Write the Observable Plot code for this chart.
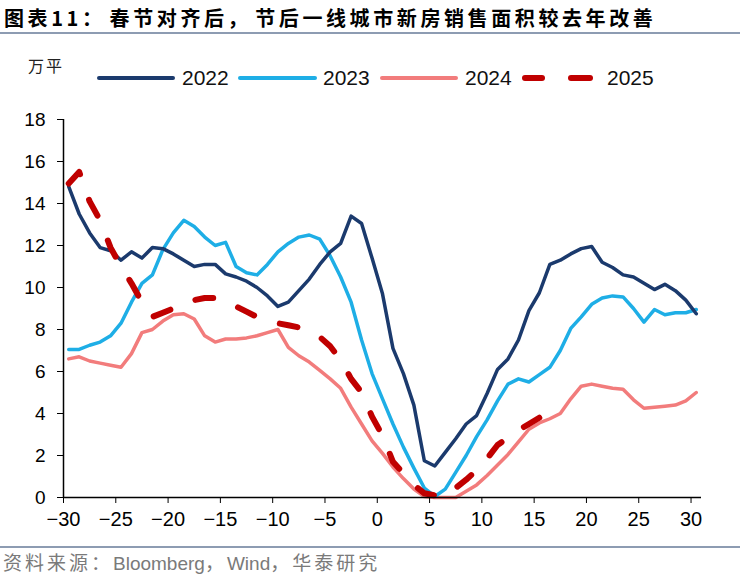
<!DOCTYPE html>
<html>
<head>
<meta charset="utf-8">
<script src="https://cdn.jsdelivr.net/npm/d3@7"></script>
<script src="https://cdn.jsdelivr.net/npm/@observablehq/plot@0.6"></script>
<style>
  html, body { margin: 0; padding: 0; background: #fff; }
  #wrap { position: relative; width: 756px; height: 582px; overflow: hidden; font-family: "Liberation Sans", Arial, sans-serif; }
  .abs { position: absolute; white-space: nowrap; }
  #title { left: 4px; top: 8px; font-family: "Noto Sans CJK SC", sans-serif; font-weight: bold; font-size: 20px; line-height: 20px; letter-spacing: 3.6px; color: #000; }
  .rule { position: absolute; left: 0; width: 740px; height: 2px; background: #8d9cb2; }
  #unit { left: 28px; top: 55px; font-family: "Noto Sans CJK SC", sans-serif; font-size: 16px; line-height: 20px; color: #222; letter-spacing: 2px; }
  .lg-line { position: absolute; height: 4px; border-radius: 2px; }
  .lg-text { position: absolute; font-size: 21px; line-height: 22px; color: #111; }
  #source { left: 3px; top: 551px; font-size: 19px; line-height: 22px; color: #7a7a7a; }
  #source .cjk { font-family: "Noto Sans CJK SC", sans-serif; letter-spacing: 3px; }
  #chart { left: 0; top: 100px; }
</style>
</head>
<body>
<div id="wrap">
  <div id="title" class="abs">图表11：<span style="margin-left:4px">春节对齐后，</span><span style="margin-left:4px">节后一线城市新房销售面积较去年改善</span></div>
  <div class="rule" style="top:32px"></div>
  <div id="unit" class="abs">万平</div>
  <div id="legend"></div>
  <div id="chart" class="abs"></div>
  <div class="rule" style="top:546px"></div>
  <div id="source" class="abs"><span class="cjk">资料来源：</span>Bloomberg<span class="cjk">，</span>Wind<span class="cjk">，华泰研究</span></div>
</div>
<script>
// Days relative to the Spring Festival
const days = d3.range(-30, 31);
const yTicks = [0, 2, 4, 6, 8, 10, 12, 14, 16, 18];
const xTicks = [-30, -25, -20, -15, -10, -5, 0, 5, 10, 15, 20, 25, 30];

const series = ["2022", "2023", "2024", "2025"];
const colors = ["#1b3a6d", "#1eaee6", "#f27c7c", "#c00000"];

// 一线城市新房销售面积 (万平), day -30 .. 30
const v2022 = [14.8, 13.5, 12.6, 11.9, 11.75, 11.3, 11.7, 11.4, 11.9, 11.85,
  11.6, 11.3, 11.0, 11.1, 11.1, 10.65, 10.5, 10.3, 10.0, 9.6,
  9.1, 9.3, 9.85, 10.4, 11.1, 11.7, 12.1, 13.4, 13.05, 11.4,
  9.7, 7.1, 5.9, 4.4, 1.75, 1.5, 2.15, 2.8, 3.5, 3.9,
  4.95, 6.1, 6.6, 7.5, 8.9, 9.75, 11.1, 11.3, 11.6, 11.85,
  11.95, 11.2, 10.95, 10.6, 10.5, 10.2, 9.9, 10.15, 9.85, 9.4, 8.75];
const v2023 = [7.05, 7.05, 7.25, 7.4, 7.7, 8.3, 9.3, 10.2, 10.6, 11.8,
  12.6, 13.2, 12.9, 12.4, 12.0, 12.15, 11.0, 10.7, 10.6, 11.1,
  11.7, 12.1, 12.4, 12.5, 12.3, 11.5, 10.5, 9.3, 7.5, 5.9,
  4.7, 3.5, 2.4, 1.4, 0.45, 0.05, 0.4, 1.2, 2.0, 2.9,
  3.7, 4.6, 5.4, 5.65, 5.5, 5.85, 6.2, 7.0, 8.05, 8.6,
  9.2, 9.5, 9.6, 9.55, 9.0, 8.35, 8.95, 8.7, 8.8, 8.8, 8.95];
const v2024 = [6.6, 6.7, 6.5, 6.4, 6.3, 6.2, 6.85, 7.85, 8.0, 8.4,
  8.7, 8.75, 8.5, 7.7, 7.4, 7.55, 7.55, 7.6, 7.7, 7.85,
  8.0, 7.15, 6.75, 6.45, 6.05, 5.65, 5.2, 4.3, 3.5, 2.7,
  2.1, 1.45, 0.9, 0.4, 0.05, 0.0, 0.0, 0.0, 0.3, 0.6,
  1.05, 1.55, 2.05, 2.65, 3.25, 3.55, 3.75, 4.0, 4.7, 5.3,
  5.4, 5.3, 5.2, 5.15, 4.65, 4.25, 4.3, 4.35, 4.4, 4.6, 5.0];
// 2025 available through day 15
const v2025 = [14.95, 15.5, 14.1, 13.2, 11.9, 11.0, 10.2, 9.3, 8.6, 8.8,
  9.0, 9.25, 9.4, 9.5, 9.5, 9.4, 9.1, 8.85, 8.6, 8.45,
  8.3, 8.2, 8.1, 7.9, 7.65, 7.2, 6.55, 5.65, 5.0, 3.85,
  2.95, 1.7, 1.15, 0.6, 0.2, 0.1, 0.05, 0.45, 0.85, 1.3,
  1.85, 2.5, 2.85, 3.2, 3.5, 3.8];

const values = [v2022, v2023, v2024, v2025];
const rows = values.map(vs => vs.map((v, i) => ({day: days[i], value: v})));

// Legend (HTML)
const legend = document.getElementById("legend");
const lgPos = [
  {line: [97, 78], text: 182},
  {line: [238, 79], text: 323},
  {line: [380, 78], text: 465},
  {line: null, text: 607}
];
series.forEach((s, i) => {
  const p = lgPos[i];
  if (p.line) {
    const d = document.createElement("div");
    d.className = "lg-line";
    d.style.cssText = `left:${p.line[0]}px;top:76px;width:${p.line[1]}px;background:${colors[i]}`;
    legend.appendChild(d);
  } else {
    [[522, 23], [568, 25]].forEach(([l, w]) => {
      const d = document.createElement("div");
      d.className = "lg-line";
      d.style.cssText = `left:${l}px;top:75px;width:${w}px;height:6px;border-radius:3px;background:${colors[i]}`;
      legend.appendChild(d);
    });
  }
  const t = document.createElement("div");
  t.className = "lg-text";
  t.style.cssText = `left:${p.text}px;top:67px`;
  t.textContent = s;
  legend.appendChild(t);
});

const chart = Plot.plot({
  width: 756,
  height: 440,
  marginLeft: 63,
  marginRight: 55,
  marginTop: 19,
  marginBottom: 43,
  style: {fontFamily: "'Liberation Sans', Arial, sans-serif", fontSize: "19px", color: "#000", background: "#fff", overflow: "visible"},
  x: {domain: [-30, 31], ticks: xTicks, tickSize: 6, tickPadding: 8, line: true, label: null},
  y: {domain: [0, 18], ticks: yTicks, tickSize: 6, tickPadding: 12, line: true, label: null},
  marks: [
    Plot.line(rows[2], {x: d => d.day + 0.5, y: "value", stroke: colors[2], strokeWidth: 3.5}),
    Plot.line(rows[1], {x: d => d.day + 0.5, y: "value", stroke: colors[1], strokeWidth: 3.5}),
    Plot.line(rows[0], {x: d => d.day + 0.5, y: "value", stroke: colors[0], strokeWidth: 3.5}),
    Plot.line(rows[3], {x: d => d.day + 0.5, y: "value", stroke: colors[3], strokeWidth: 6, strokeDasharray: "18,27", strokeLinecap: "round"}),
    Plot.axisX({ticks: xTicks, tickSize: 6, tickPadding: 8, fontSize: 20, stroke: "#000"}),
    Plot.axisY({ticks: yTicks, tickSize: 6, tickPadding: 12, fontSize: 19, stroke: "#000"}),
    Plot.ruleY([0], {stroke: "#000", strokeWidth: 1.5}),
    Plot.ruleX([-30], {stroke: "#000", strokeWidth: 1.5})
  ]
});
document.getElementById("chart").appendChild(chart);
</script>
</body>
</html>
